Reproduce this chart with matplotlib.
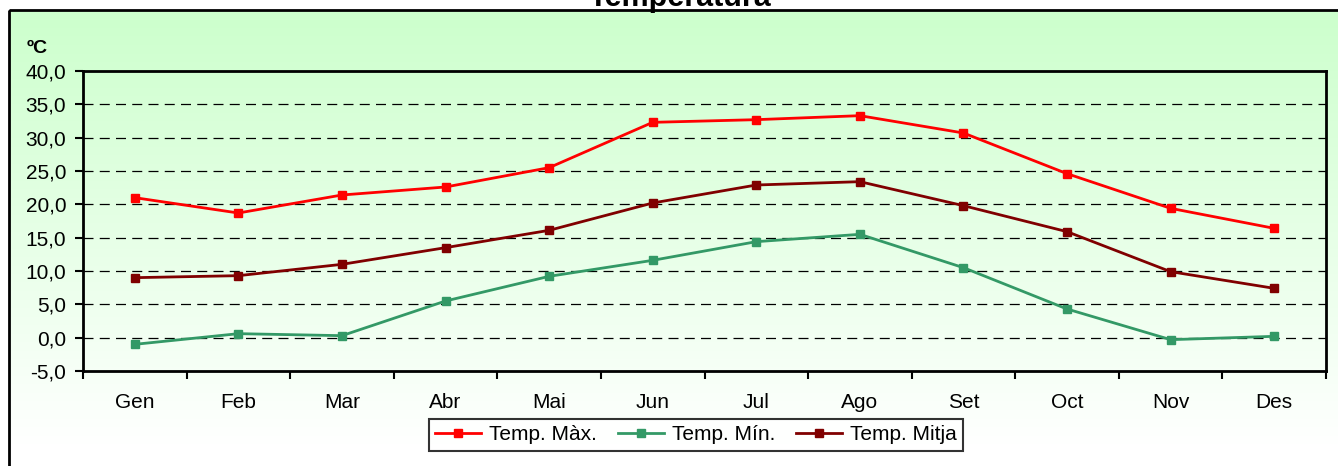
import numpy as np
import matplotlib.pyplot as plt
from matplotlib.patches import Rectangle

plt.rcParams['font.family'] = ['Liberation Sans', 'DejaVu Sans']

months = ['Gen', 'Feb', 'Mar', 'Abr', 'Mai', 'Jun', 'Jul', 'Ago', 'Set', 'Oct', 'Nov', 'Des']
t_max = [21.0, 18.7, 21.4, 22.6, 25.5, 32.3, 32.7, 33.3, 30.7, 24.6, 19.4, 16.4]
t_min = [-1.0, 0.6, 0.3, 5.5, 9.2, 11.6, 14.4, 15.5, 10.5, 4.3, -0.3, 0.2]
t_mitja = [9.0, 9.3, 11.0, 13.5, 16.1, 20.2, 22.9, 23.4, 19.8, 15.9, 9.9, 7.4]
yticks = np.arange(-5, 41, 5)

W, H = 1338, 466
fig = plt.figure(figsize=(W / 100, H / 100), dpi=100)

# gradient background of the chart area
bg = fig.add_axes([0, 0, 1, 1], zorder=0)
bg.set_xlim(0, W)
bg.set_ylim(H, 0)
bg.axis('off')
top = np.array([204, 255, 204]) / 255
rows = np.linspace(0, 1, 200)[:, None]
grad = top + (1 - top) * rows
grad = np.clip(grad, 0, 1)[:, None, :]
bg.imshow(grad, extent=[9, W + 5, 445, 10], aspect='auto', zorder=0)
bg.add_patch(Rectangle((9, 445), W, 30, facecolor='white', edgecolor='none', zorder=0))
bg.add_patch(Rectangle((9, 10), W + 10, H + 10, facecolor='none', edgecolor='black', lw=2, zorder=1))

fig.text(0.508, 1 - 6 / H, 'Temperatura', ha='center', va='baseline',
         fontsize=22, fontweight='bold')
fig.text(27 / W, 1 - 53 / H, 'ºC', ha='left', va='baseline', fontsize=14, fontweight='bold')

ax = fig.add_axes([83 / W, 1 - 371 / H, (1326 - 83) / W, 300 / H], zorder=2)
ax.set_facecolor('none')
x = np.arange(1, 13)
ax.plot(x, t_max, color='#FF0000', lw=2, marker='s', ms=5.5, label='Temp. Màx.')
ax.plot(x, t_min, color='#339966', lw=2, marker='s', ms=5.5, label='Temp. Mín.')
ax.plot(x, t_mitja, color='#800000', lw=2, marker='s', ms=5.5, label='Temp. Mitja')

ax.set_xlim(0.5, 12.5)
ax.set_ylim(-5, 40)
ax.set_yticks(yticks)
ax.set_yticklabels([f'{v:.1f}'.replace('.', ',') for v in yticks], fontsize=15)
ax.set_xticks(np.arange(0.5, 13, 1))
ax.set_xticklabels([])
ax.set_xticks(x, minor=True)
ax.set_xticklabels(months, minor=True, fontsize=15)
ax.tick_params(axis='x', which='major', length=6, width=1.5, direction='out')
ax.tick_params(axis='x', which='minor', length=0, pad=16)
ax.tick_params(axis='y', length=6, width=1.5, direction='out', pad=6)
for v in yticks[1:-1]:
    ax.axhline(v, color='black', lw=0.9, ls=(0, (8, 5)), zorder=1)
for s in ax.spines.values():
    s.set_linewidth(2)
    s.set_color('black')

leg = fig.legend(loc='center', bbox_to_anchor=(696 / W, 1 - 435 / H), ncol=3,
                 fontsize=15, frameon=True, fancybox=False, edgecolor='black',
                 handlelength=2.2, handletextpad=0.4, columnspacing=1.0,
                 borderpad=0.3)
leg.get_frame().set_linewidth(1.5)
leg.get_frame().set_facecolor('white')

fig.savefig('out.png', dpi=100)
